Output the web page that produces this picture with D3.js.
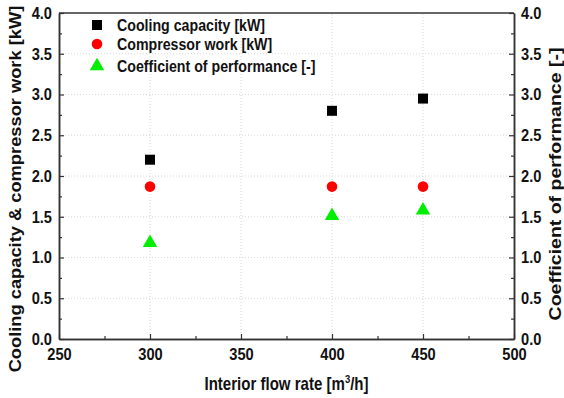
<!DOCTYPE html>
<html>
<head>
<meta charset="utf-8">
<script src="https://cdn.jsdelivr.net/npm/d3@7"></script>
<style>
  body { margin: 0; background: #fff; }
  text { font-family: "Liberation Sans", Arial, sans-serif; font-weight: bold; }
</style>
</head>
<body>
<div id="chart"></div>
<script>
const flowRates = [300, 400, 450];
const coolingCapacity = [2.2, 2.8, 2.95];
const compressorWork = [1.87, 1.87, 1.87];
const cop = [1.18, 1.51, 1.58];
const seriesNames = ["Cooling capacity [kW]", "Compressor work [kW]", "Coefficient of performance [-]"];

const width = 564, height = 398;
const margin = {top: 13, right: 50, bottom: 59, left: 59};
const squeezeX = 0.86; // the original figure is a bit narrower than tall

const svg = d3.select("#chart").append("svg")
    .attr("width", width)
    .attr("height", height);

const x = d3.scaleLinear().domain([250, 500]).range([margin.left, width - margin.right]);
const y = d3.scaleLinear().domain([0, 4]).range([height - margin.bottom, margin.top]);
const y2 = d3.scaleLinear().domain([0, 4]).range([height - margin.bottom, margin.top]);

// squeeze horizontal text the way it looks in the figure
function squeeze(sel, k) {
  sel.each(function() {
    const L = this.getComputedTextLength();
    this.setAttribute("textLength", L * k);
    this.setAttribute("lengthAdjust", "spacingAndGlyphs");
  });
}

// dotted grid
const grid = svg.append("g").attr("stroke", "#d8d8d8").attr("stroke-dasharray", "1,2");
grid.selectAll("line.gx").data(d3.range(300, 500, 50)).join("line")
    .attr("x1", d => x(d)).attr("x2", d => x(d))
    .attr("y1", y(0)).attr("y2", y(4));
grid.selectAll("line.gy").data(d3.range(0.5, 4, 0.5)).join("line")
    .attr("y1", d => y(d)).attr("y2", d => y(d))
    .attr("x1", x(250)).attr("x2", x(500));

// axes, ticks inward
const fmt = d3.format(".1f");
svg.append("g").attr("transform", `translate(0,${y(0)})`)
    .call(d3.axisBottom(x).tickValues(d3.range(250, 501, 50)).tickSize(-5).tickPadding(9).tickSizeOuter(0));
svg.append("g").attr("transform", `translate(0,${y(0)})`)
    .call(d3.axisBottom(x).tickValues(d3.range(275, 500, 50)).tickSize(-3).tickFormat("").tickSizeOuter(0));
svg.append("g").attr("transform", `translate(${x(250)},0)`)
    .call(d3.axisLeft(y).tickValues(d3.range(0, 4.01, 0.5)).tickFormat(fmt).tickSize(-5).tickPadding(7).tickSizeOuter(0));
svg.append("g").attr("transform", `translate(${x(250)},0)`)
    .call(d3.axisLeft(y).tickValues(d3.range(0.25, 4, 0.5)).tickFormat("").tickSize(-3).tickSizeOuter(0));
svg.append("g").attr("transform", `translate(${x(500)},0)`)
    .call(d3.axisRight(y2).tickValues(d3.range(0, 4.01, 0.5)).tickFormat(fmt).tickSize(-5).tickPadding(7).tickSizeOuter(0));
svg.append("g").attr("transform", `translate(${x(500)},0)`)
    .call(d3.axisRight(y2).tickValues(d3.range(0.25, 4, 0.5)).tickFormat("").tickSize(-3).tickSizeOuter(0));
svg.append("line")
    .attr("x1", x(250)).attr("x2", x(500)).attr("y1", y(4)).attr("y2", y(4))
    .attr("stroke", "#333").attr("stroke-width", 1.5);

svg.selectAll(".domain").attr("stroke", "#333").attr("stroke-width", 1.5);
svg.selectAll(".tick line").attr("stroke", "#333").attr("stroke-width", 1.2);
svg.selectAll(".tick text").attr("font-size", 17).attr("fill", "#111")
    .style("font-family", "'Liberation Sans', Arial, sans-serif").style("font-weight", "bold")
    .call(squeeze, squeezeX);

// axis titles
svg.append("text")
    .attr("transform", `translate(${(x(250) + x(500)) / 2},390) scale(${squeezeX},1)`)
    .attr("text-anchor", "middle").attr("font-size", 17.5).attr("fill", "#111")
    .html('Interior flow rate [m<tspan dy="-7" font-size="11">3</tspan><tspan dy="7">/h]</tspan>');
svg.append("text")
    .attr("transform", `translate(21,189) rotate(-90) scale(1,${squeezeX})`)
    .attr("text-anchor", "middle").attr("font-size", 18.3).attr("fill", "#111")
    .text("Cooling capacity & compressor work [kW]");
svg.append("text")
    .attr("transform", `translate(561,184) rotate(-90) scale(1,${squeezeX})`)
    .attr("text-anchor", "middle").attr("font-size", 19.5).attr("fill", "#111")
    .text("Coefficient of performance [-]");

// markers
const sq = 10;
svg.append("g").selectAll("rect").data(flowRates).join("rect")
    .attr("x", (d) => x(d) - sq / 2)
    .attr("y", (d, i) => y(coolingCapacity[i]) - sq / 2)
    .attr("width", sq).attr("height", sq).attr("fill", "#000");
svg.append("g").selectAll("circle").data(flowRates).join("circle")
    .attr("cx", d => x(d))
    .attr("cy", (d, i) => y(compressorWork[i]))
    .attr("r", 5.3).attr("fill", "#ff0000");
const tri = d3.symbol().type(d3.symbolTriangle).size(90);
svg.append("g").selectAll("path").data(flowRates).join("path")
    .attr("transform", (d, i) => `translate(${x(d)},${y2(cop[i])})`)
    .attr("d", tri).attr("fill", "#00ee00");

// legend
const legend = svg.append("g");
const legendRows = [
  {name: seriesNames[0], shape: "square"},
  {name: seriesNames[1], shape: "circle"},
  {name: seriesNames[2], shape: "triangle"}
];
const ly = [25, 44, 66];
legendRows.forEach((r, i) => {
  const g = legend.append("g").attr("transform", `translate(97,${ly[i]})`);
  if (r.shape === "square") g.append("rect").attr("x", -sq / 2).attr("y", -sq / 2).attr("width", sq).attr("height", sq).attr("fill", "#000");
  if (r.shape === "circle") g.append("circle").attr("r", 5.3).attr("fill", "#ff0000");
  if (r.shape === "triangle") g.append("path").attr("d", tri).attr("fill", "#00ee00");
  g.append("text").attr("transform", `translate(20,6) scale(${squeezeX},1)`)
    .attr("font-size", 16.5).attr("fill", "#111").text(r.name);
});
</script>
</body>
</html>
